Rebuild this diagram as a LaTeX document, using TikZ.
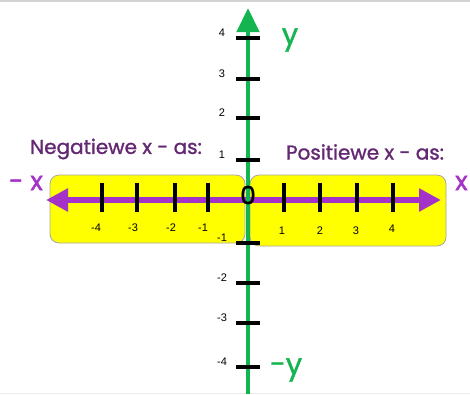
\documentclass[tikz,border=0pt]{standalone}
\usepackage{fontspec}
\setmainfont{Liberation Sans}
\newfontfamily\roundf[FakeBold=1.3]{Poppins}
\usetikzlibrary{arrows.meta}
\definecolor{axpurple}{RGB}{165,50,200}
\definecolor{txtpurple}{RGB}{100,40,115}
\definecolor{axgreen}{RGB}{20,180,80}
\definecolor{boxyellow}{RGB}{255,255,0}
\tikzset{
  ybox/.style={draw=gray!70, fill=boxyellow, rounded corners=9pt, line width=0.8pt},
  tickmark/.style={draw=black, line width=3.2pt},
  ticklab/.style={font=\fontsize{11}{11}\selectfont, inner sep=0pt},
  heading/.style={font=\roundf\fontsize{20}{20}\selectfont, text=txtpurple, inner sep=0pt},
  axlabp/.style={font=\roundf\fontsize{26}{26}\selectfont, text=axpurple, inner sep=0pt},
  axlabg/.style={font=\roundf\fontsize{29}{29}\selectfont, text=axgreen, inner sep=0pt},
}
\begin{document}
\begin{tikzpicture}[x=1pt,y=-1pt]
\useasboundingbox (0,0) rectangle (470,394);
\fill[gray!35] (0,0) rectangle (470,2);
\fill[gray!15] (0,393) rectangle (470,394);
% boxes
\draw[ybox] (50,175) rectangle (245,243);
\draw[ybox] (250,175) rectangle (446,246);
% x axis
\coordinate (xl) at (46,200);
\coordinate (xr) at (441,200);
\draw[axpurple, line width=5.5pt, {Triangle[length=22pt,width=22pt]}-{Triangle[length=22pt,width=22pt]}] (xl) -- (xr);
% y axis
\coordinate (yt) at (248,8);
\coordinate (yb) at (248,394);
\draw[axgreen, line width=4.5pt, -{Triangle[length=24pt,width=22pt]}] (yb) -- (yt);
% y ticks
\foreach \v/\yy in {4/38,3/79,2/118,1/160,-1/243,-2/283,-3/323,-4/367}{
  \draw[tickmark] (236,\yy) -- (260,\yy);
  \node[ticklab] at (222,\yy-5) {\v};
}
% x ticks
\foreach \v/\xx in {-4/102,-3/137,-2/175,-1/208,1/284,2/320,3/357,4/393}{
  \draw[tickmark] (\xx,183) -- (\xx,212);
}
\foreach \v/\xx/\yy in {-4/96/228,-3/133/228,-2/171/228,-1/203/228,1/282/231,2/320/231,3/356/231,4/392/229}{
  \node[ticklab] at (\xx,\yy) {\v};
}
\node[font=\roundf\fontsize{25}{25}\selectfont, inner sep=0pt] (zero) at (248,195) {0};
% headings
\node[heading] (neg) at (116,149) {Negatiewe x - as:};
\node[heading] (pos) at (365,152) {Positiewe x - as:};
% axis labels
\node[axlabp] (mx) at (26,183) {- x};
\node[axlabp, anchor=west] (px) at (455,183) {x};
\node[axlabg] (ylab) at (290,40) {y};
\node[axlabg] (mylab) at (286,370) {-y};
\end{tikzpicture}
\end{document}
